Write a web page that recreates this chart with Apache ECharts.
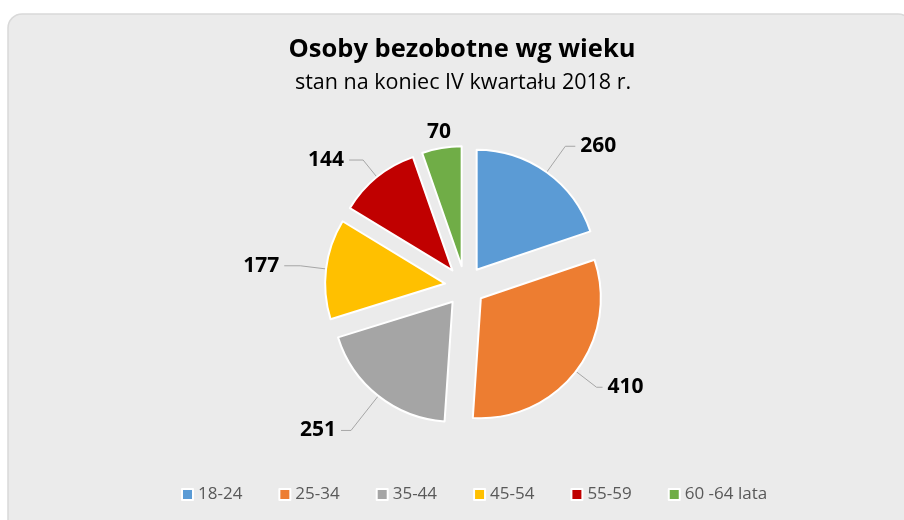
<!DOCTYPE html>
<html>
<head>
<meta charset="utf-8">
<script src="https://cdn.jsdelivr.net/npm/echarts@6/dist/echarts.min.js"></script>
<style>
html,body{margin:0;padding:0;background:#fff;}
#c{width:904px;height:520px;}
</style>
</head>
<body>
<div id="c"></div>
<script>
const categories = ['18-24', '25-34', '35-44', '45-54', '55-59', '60 -64 lata'];
const values = [260, 410, 251, 177, 144, 70];
const colors = ['#5b9bd5', '#ed7d31', '#a5a5a5', '#ffc000', '#c00000', '#70ad47'];
const titleText = 'Osoby bezobotne wg wieku';
const subtitleText = 'stan na koniec IV kwartału 2018 r.';
// leader line lengths per slice [first segment, second segment]
const lineLengths = [[32, 10], [26, 6], [44, 10], [26, 16], [22, 14], [10, 0]];

const chart = echarts.init(document.getElementById('c'), null, {renderer: 'canvas'});
const data = categories.map((name, i) => ({
  name: name,
  value: values[i],
  selected: true,
  itemStyle: {color: colors[i]},
  labelLine: {show: lineLengths[i][1] > 0, length: lineLengths[i][0], length2: lineLengths[i][1]}
}));

chart.setOption({
  animation: false,
  backgroundColor: '#ffffff',
  graphic: [{
    type: 'rect',
    z: -10,
    silent: true,
    shape: {x: 8, y: 14, width: 904, height: 530, r: 14},
    style: {fill: '#ebebeb', stroke: '#d9d9d9', lineWidth: 1.5}
  }, {
    type: 'text',
    silent: true,
    x: 462,
    y: 50,
    style: {
      text: titleText, align: 'center', verticalAlign: 'middle',
      font: 'bold 25.5px "Open Sans"', fill: '#000'
    }
  }, {
    type: 'text',
    silent: true,
    x: 463,
    y: 83,
    style: {
      text: subtitleText, align: 'center', verticalAlign: 'middle',
      font: '21.5px "Open Sans"', fill: '#000'
    }
  }],
  legend: {
    data: categories,
    bottom: 12,
    left: 176,
    itemWidth: 11,
    itemHeight: 11,
    itemGap: 36,
    icon: 'rect',
    selectedMode: false,
    itemStyle: {borderColor: '#fff', borderWidth: 2},
    textStyle: {fontFamily: 'Open Sans', fontSize: 17, color: '#595959'}
  },
  series: [{
    type: 'pie',
    center: [465, 286],
    radius: [0, 120],
    startAngle: 90,
    clockwise: true,
    selectedMode: 'multiple',
    selectedOffset: 20,
    avoidLabelOverlap: false,
    itemStyle: {borderColor: '#ffffff', borderWidth: 2},
    emphasis: {disabled: true},
    label: {
      show: true,
      position: 'outside',
      formatter: '{c}',
      fontFamily: 'Open Sans',
      fontWeight: 'bold',
      fontSize: 21,
      color: '#000'
    },
    labelLine: {
      show: true,
      lineStyle: {color: '#a6a6a6', width: 1}
    },
    labelLayout: function (params) {
      if (params.dataIndex === 5) {
        return {dx: 16, dy: -6};
      }
      return {};
    },
    data: data
  }]
});
</script>
</body>
</html>
